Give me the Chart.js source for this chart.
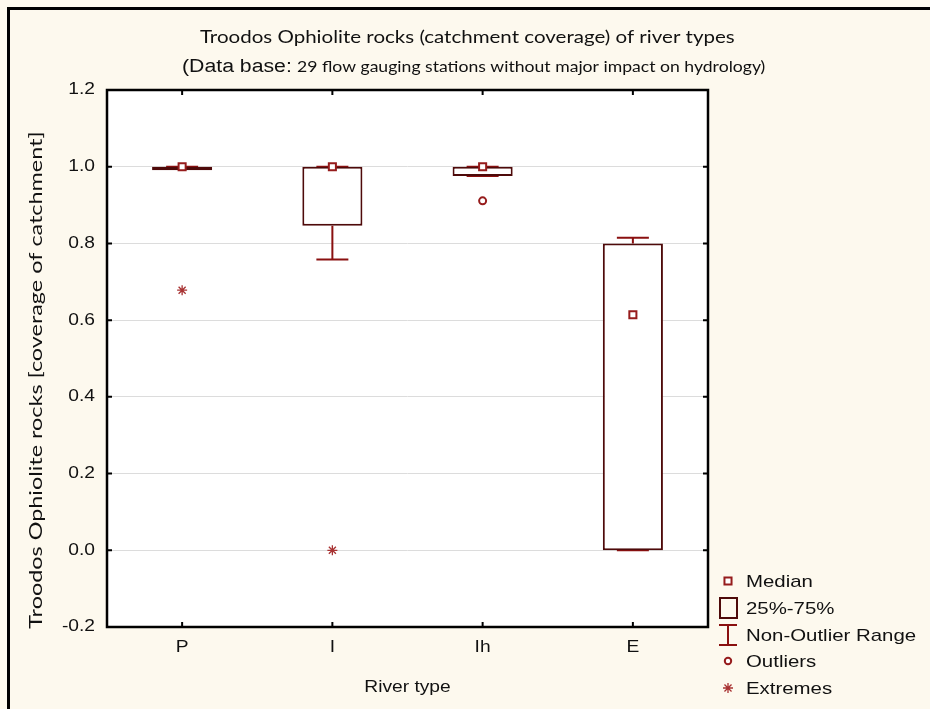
<!DOCTYPE html>
<html>
<head>
<meta charset="utf-8">
<script src="https://cdn.jsdelivr.net/npm/chart.js@4.4.1/dist/chart.umd.min.js"></script>
<style>
  html, body { margin: 0; padding: 0; background: #fdf9ee; }
  #wrap { width: 930px; height: 709px; }
</style>
</head>
<body>
<div id="wrap"><canvas id="chart" width="930" height="709"></canvas></div>
<script>
'use strict'

// box plot statistics per river type
const riverTypes = ['P', 'I', 'Ih', 'E']
const medians = [1.0, 1.0, 1.0, 0.614]
const q1 = [0.991, 0.846, 0.976, 0.0]
const q3 = [1.0, 1.0, 1.0, 0.8]
const whiskerLow = [0.994, 0.758, 0.976, 0.0]
const whiskerHigh = [1.0, 1.0, 1.0, 0.815]
const outliers = [null, null, 0.911, null]
const extremes = [0.678, 0.0, null, null]

const yMin = -0.2
const yMax = 1.2
const yStep = 0.2

const titleLine1 = 'Troodos Ophiolite rocks (catchment coverage) of river types'
const titleLine2a = '(Data base:'
const titleLine2b = '29 flow gauging stations without major impact on hydrology)'
const yTitle = 'Troodos Ophiolite rocks [coverage of catchment]'
const xTitle = 'River type'
const legendLabels = ['Median', '25%-75%', 'Non-Outlier Range', 'Outliers', 'Extremes']

const bgColor = '#fdf9ee'
const boxColor = '#4e0a0a'
const whiskerColor = '#8a1010'
const markerColor = '#961c1c'
const extremeColor = '#a83232'
const textColor = '#111'
const arial = '"Liberation Sans", Arial, sans-serif'
const calibri = 'Lato, "Open Sans", sans-serif'

// the graph's text is rendered wide, so stretch it along its direction
function wideText(ctx, text, x, y, opts) {
    ctx.save()
    ctx.font = opts.font
    ctx.textAlign = opts.align || 'left'
    ctx.textBaseline = opts.baseline || 'alphabetic'
    ctx.translate(x, y)
    if (opts.rotate) ctx.rotate(opts.rotate)
    ctx.scale(opts.sx || 1, 1)
    ctx.fillText(text, 0, 0)
    ctx.restore()
}

const boxPlot = {
    id: 'boxPlot',
    beforeDraw(chart) {
        const {ctx, chartArea: a} = chart
        ctx.save()
        ctx.fillStyle = bgColor
        ctx.fillRect(0, 0, chart.width, chart.height)
        ctx.fillStyle = '#fff'
        ctx.fillRect(a.left, a.top, a.right - a.left, a.bottom - a.top)
        // window border
        ctx.fillStyle = '#000'
        ctx.fillRect(7, 7, chart.width, 3)
        ctx.fillRect(7, 7, 3, chart.height)
        ctx.restore()
    },
    beforeDatasetsDraw(chart) {
        // whiskers with caps
        const {ctx, scales: {x, y}} = chart
        ctx.save()
        ctx.strokeStyle = whiskerColor
        ctx.lineWidth = 2
        riverTypes.forEach((t, i) => {
            const cx = x.getPixelForValue(i)
            const segs = [[whiskerLow[i], q1[i], whiskerLow[i]], [q3[i], whiskerHigh[i], whiskerHigh[i]]]
            for (const [from, to, end] of segs) {
                const ye = y.getPixelForValue(end)
                ctx.beginPath()
                ctx.moveTo(cx, y.getPixelForValue(from))
                ctx.lineTo(cx, y.getPixelForValue(to))
                ctx.moveTo(cx - 16, ye)
                ctx.lineTo(cx + 16, ye)
                ctx.stroke()
            }
        })
        ctx.restore()
    },
    afterDraw(chart) {
        const {ctx, chartArea: a, scales: {x, y}} = chart
        ctx.save()

        // frame and inward ticks
        ctx.strokeStyle = '#000'
        ctx.lineWidth = 2.5
        ctx.strokeRect(a.left, a.top, a.right - a.left, a.bottom - a.top)
        ctx.lineWidth = 2
        ctx.beginPath()
        y.ticks.forEach((t, i) => {
            const py = y.getPixelForTick(i)
            ctx.moveTo(a.left, py); ctx.lineTo(a.left + 5, py)
            ctx.moveTo(a.right, py); ctx.lineTo(a.right - 5, py)
        })
        riverTypes.forEach((t, i) => {
            const px = x.getPixelForValue(i)
            ctx.moveTo(px, a.top); ctx.lineTo(px, a.top + 5)
            ctx.moveTo(px, a.bottom); ctx.lineTo(px, a.bottom - 5)
        })
        ctx.stroke()

        ctx.fillStyle = textColor

        // tick labels
        y.ticks.forEach((t, i) => {
            const v = Math.abs(t.value) < 1e-9 ? 0 : t.value
            wideText(ctx, v.toFixed(1), a.left - 12, y.getPixelForTick(i), {font: '16px ' + arial, align: 'right', baseline: 'middle', sx: 1.2})
        })
        riverTypes.forEach((t, i) => {
            wideText(ctx, t, x.getPixelForValue(i), a.bottom + 21, {font: '16px ' + arial, align: 'center', baseline: 'middle', sx: 1.2})
        })

        // axis titles
        wideText(ctx, xTitle, (a.left + a.right) / 2, 688, {font: '16px ' + arial, align: 'center', baseline: 'middle', sx: 1.2})
        wideText(ctx, yTitle, 36, 380, {font: '18px ' + calibri, align: 'center', baseline: 'middle', sx: 1.3, rotate: -Math.PI / 2})

        // chart title
        wideText(ctx, titleLine1, 200, 43, {font: '18px ' + calibri, sx: 1.14})
        wideText(ctx, titleLine2a, 182, 72, {font: '18px ' + arial, sx: 1.18})
        wideText(ctx, titleLine2b, 297, 72, {font: '16px ' + calibri, sx: 1.1})

        // legend
        const lx = 728
        const ly = [581, 608, 635, 661, 688]
        ctx.lineWidth = 2
        ctx.strokeStyle = markerColor
        ctx.fillStyle = '#fff'
        Chart.helpers.drawPoint(ctx, {pointStyle: 'rect', radius: 5, borderWidth: 2}, lx, ly[0])
        ctx.strokeStyle = boxColor
        ctx.strokeRect(lx - 8, ly[1] - 10, 17, 20)
        ctx.strokeStyle = whiskerColor
        ctx.beginPath()
        ctx.moveTo(lx - 9, ly[2] - 10); ctx.lineTo(lx + 9, ly[2] - 10)
        ctx.moveTo(lx, ly[2] - 10); ctx.lineTo(lx, ly[2] + 10)
        ctx.moveTo(lx - 9, ly[2] + 10); ctx.lineTo(lx + 9, ly[2] + 10)
        ctx.stroke()
        ctx.strokeStyle = markerColor
        Chart.helpers.drawPoint(ctx, {pointStyle: 'circle', radius: 3.2, borderWidth: 2}, lx, ly[3])
        ctx.strokeStyle = extremeColor
        ctx.lineWidth = 1.3
        Chart.helpers.drawPoint(ctx, {pointStyle: 'star', radius: 5, borderWidth: 1.3}, lx, ly[4])

        ctx.fillStyle = textColor
        legendLabels.forEach((label, i) => {
            wideText(ctx, label, 746, ly[i] + 1, {font: '17px ' + arial, baseline: 'middle', sx: 1.2})
        })

        ctx.restore()
    }
}

const ctx = document.getElementById('chart').getContext('2d')

const myChart = new Chart(ctx, {
    data: {
        labels: riverTypes,
        datasets: [
            {
                type: 'line',
                label: 'Median',
                data: medians,
                showLine: false,
                pointStyle: 'rect',
                pointRadius: 5,
                pointBorderWidth: 2,
                pointBorderColor: markerColor,
                pointBackgroundColor: '#fff',
                order: 1
            },
            {
                type: 'line',
                label: 'Outliers',
                data: outliers,
                showLine: false,
                pointStyle: 'circle',
                pointRadius: 3.5,
                pointBorderWidth: 2,
                pointBorderColor: markerColor,
                pointBackgroundColor: '#fff',
                order: 1
            },
            {
                type: 'line',
                label: 'Extremes',
                data: extremes,
                showLine: false,
                pointStyle: 'star',
                pointRadius: 5,
                pointBorderWidth: 1.3,
                pointBorderColor: extremeColor,
                order: 1
            },
            {
                type: 'bar',
                label: '25%-75%',
                data: riverTypes.map((t, i) => [q1[i], q3[i]]),
                backgroundColor: '#fff',
                borderColor: boxColor,
                borderWidth: 2,
                borderSkipped: false,
                barPercentage: 0.4,
                categoryPercentage: 1.0,
                order: 3
            }
        ]
    },
    options: {
        responsive: false,
        animation: false,
        devicePixelRatio: 1,
        layout: {padding: {left: 0, top: 90, right: 222, bottom: 0}},
        plugins: {
            legend: {display: false},
            tooltip: {enabled: false},
            title: {display: false}
        },
        scales: {
            x: {
                type: 'category',
                offset: true,
                grid: {display: false},
                border: {display: false},
                ticks: {display: false},
                afterFit: s => { s.height = 82 }
            },
            y: {
                min: yMin,
                max: yMax,
                border: {display: false},
                grid: {color: '#dcdcdc', lineWidth: 1, drawTicks: false},
                ticks: {display: false, stepSize: yStep},
                afterFit: s => { s.width = 107 }
            }
        }
    },
    plugins: [boxPlot]
})
</script>
</body>
</html>
